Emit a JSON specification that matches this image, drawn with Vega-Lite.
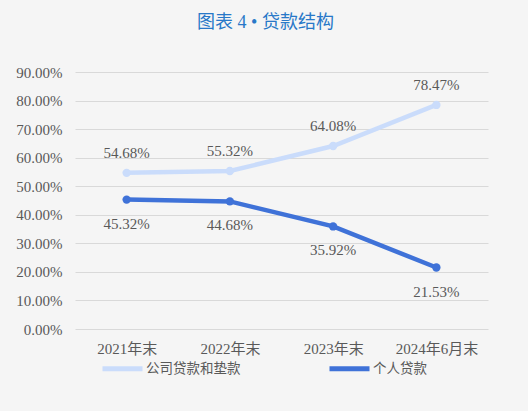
{
  "$schema": "https://vega.github.io/schema/vega-lite/v6.json",
  "width": 413,
  "height": 257,
  "autosize": {"type": "none"},
  "padding": {"left": 75, "top": 72, "right": 40, "bottom": 82},
  "background": "#f5f5f5",
  "title": {
    "text": "图表 4 • 贷款结构",
    "anchor": "middle",
    "dx": -16,
    "offset": 33,
    "font": "Liberation Serif, Noto Sans CJK SC",
    "fontSize": 18,
    "fontWeight": "normal",
    "color": "#2878c8"
  },
  "data": {
    "values": [
      {"period": "2021年末", "series": "公司贷款和垫款", "share": 0.5468},
      {"period": "2022年末", "series": "公司贷款和垫款", "share": 0.5532},
      {"period": "2023年末", "series": "公司贷款和垫款", "share": 0.6408},
      {"period": "2024年6月末", "series": "公司贷款和垫款", "share": 0.7847},
      {"period": "2021年末", "series": "个人贷款", "share": 0.4532},
      {"period": "2022年末", "series": "个人贷款", "share": 0.4468},
      {"period": "2023年末", "series": "个人贷款", "share": 0.3592},
      {"period": "2024年6月末", "series": "个人贷款", "share": 0.2153}
    ]
  },
  "encoding": {
    "x": {
      "field": "period",
      "type": "nominal",
      "sort": null,
      "scale": {"type": "point", "padding": 0.5},
      "axis": {
        "title": null,
        "labelAngle": 0,
        "domain": false,
        "ticks": false,
        "grid": false,
        "labelPadding": 12,
        "labelFont": "Liberation Serif, Noto Sans CJK SC",
        "labelFontSize": 15,
        "labelColor": "#595959"
      }
    },
    "y": {
      "field": "share",
      "type": "quantitative",
      "scale": {"domain": [0, 0.9]},
      "axis": {
        "title": null,
        "format": ".2%",
        "values": [0, 0.1, 0.2, 0.3, 0.4, 0.5, 0.6, 0.7, 0.8, 0.9],
        "domain": false,
        "ticks": false,
        "labelPadding": 13,
        "labelFont": "Liberation Serif",
        "labelFontSize": 15,
        "labelColor": "#595959",
        "gridColor": "#d9d9d9",
        "gridWidth": 1.2
      }
    },
    "color": {
      "field": "series",
      "type": "nominal",
      "sort": ["公司贷款和垫款", "个人贷款"],
      "scale": {"domain": ["公司贷款和垫款", "个人贷款"], "range": ["#cadcfb", "#3f72d8"]},
      "legend": {
        "title": null,
        "orient": "none",
        "direction": "horizontal",
        "legendX": 25,
        "legendY": 274,
        "columnPadding": 78,
        "symbolType": "stroke",
        "symbolSize": 1600,
        "symbolStrokeWidth": 5,
        "labelFont": "Noto Sans CJK SC",
        "labelFontSize": 13.5,
        "labelColor": "#595959",
        "labelOffset": 1
      }
    }
  },
  "layer": [
    {
      "mark": {"type": "line", "strokeWidth": 4.5, "point": {"filled": true, "size": 70}}
    },
    {
      "transform": [{"filter": "datum.series === '公司贷款和垫款'"}],
      "mark": {"type": "text", "dy": -20, "font": "Liberation Serif", "fontSize": 15, "color": "#595959"},
      "encoding": {
        "text": {"field": "share", "type": "quantitative", "format": ".2%"},
        "color": {"value": "#595959"}
      }
    },
    {
      "transform": [{"filter": "datum.series === '个人贷款'"}],
      "mark": {"type": "text", "dy": 24, "font": "Liberation Serif", "fontSize": 15, "color": "#595959"},
      "encoding": {
        "text": {"field": "share", "type": "quantitative", "format": ".2%"},
        "color": {"value": "#595959"}
      }
    }
  ],
  "config": {"view": {"stroke": null}}
}
